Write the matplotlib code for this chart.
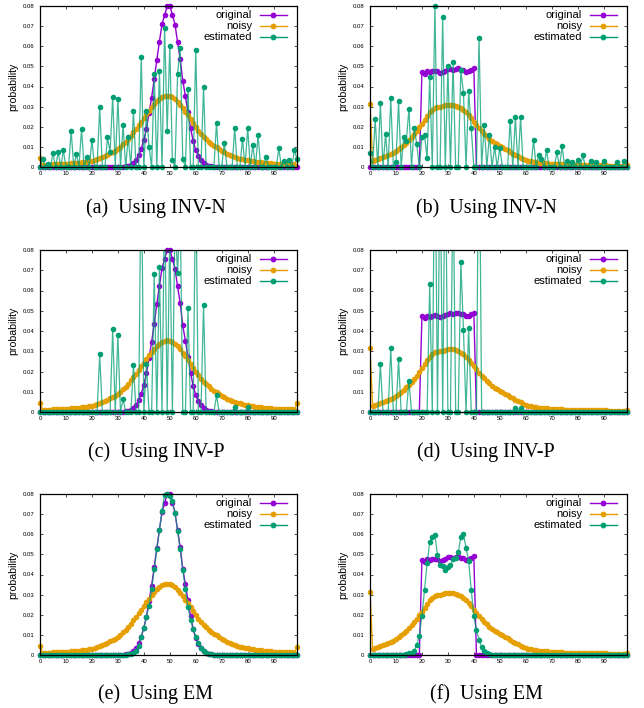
import numpy as np
import matplotlib
matplotlib.use("Agg")
import matplotlib.pyplot as plt
from matplotlib.lines import Line2D

# ---------------- data ----------------
bins = list(range(100))

original_gauss = [
    0, 0, 0, 0, 0, 0, 0, 0, 0, 0,
    0, 0, 0, 0, 0, 0, 0, 0, 0, 0,
    0, 0, 0, 0, 0, 0, 0, 0, 0, 0,
    0, 0, 0.0002, 0.0003, 0.0007, 0.0012, 0.0021, 0.0035, 0.0058, 0.0091,
    0.0135, 0.0191, 0.0268, 0.0345, 0.0437, 0.0532, 0.0623, 0.0710, 0.0755, 0.0800,
    0.0800, 0.0757, 0.0708, 0.0620, 0.0537, 0.0428, 0.0352, 0.0272, 0.0193, 0.0130,
    0.0083, 0.0056, 0.0034, 0.0020, 0.0012, 0.0007, 0.0003, 0.0002, 0, 0,
    0, 0, 0, 0, 0, 0, 0, 0, 0, 0,
    0, 0, 0, 0, 0, 0, 0, 0, 0, 0,
    0, 0, 0, 0, 0, 0, 0, 0, 0, 0]

original_unif = [
    0, 0, 0, 0, 0, 0, 0, 0, 0, 0,
    0, 0, 0, 0, 0, 0, 0, 0, 0, 0,
    0.0472, 0.0462, 0.0476, 0.0470, 0.0475, 0.0478, 0.0475, 0.0468, 0.0474, 0.0478,
    0.0485, 0.0488, 0.0483, 0.0488, 0.0490, 0.0483, 0.0482, 0.0474, 0.0476, 0.0483,
    0.0490, 0, 0, 0, 0, 0, 0, 0, 0, 0,
    0, 0, 0, 0, 0, 0, 0, 0, 0, 0,
    0, 0, 0, 0, 0, 0, 0, 0, 0, 0,
    0, 0, 0, 0, 0, 0, 0, 0, 0, 0,
    0, 0, 0, 0, 0, 0, 0, 0, 0, 0,
    0, 0, 0, 0, 0, 0, 0, 0, 0, 0]

noisy_gauss = [
    0.0045, 0.0011, 0.0011, 0.0012, 0.0012, 0.0013, 0.0013, 0.0014, 0.0015, 0.0015,
    0.0016, 0.0017, 0.0018, 0.0019, 0.0020, 0.0022, 0.0023, 0.0025, 0.0027, 0.0029,
    0.0032, 0.0035, 0.0039, 0.0043, 0.0048, 0.0054, 0.0061, 0.0068, 0.0073, 0.0079,
    0.0090, 0.0100, 0.0112, 0.0125, 0.0140, 0.0156, 0.0172, 0.0190, 0.0208, 0.0226,
    0.0244, 0.0262, 0.0280, 0.0297, 0.0312, 0.0326, 0.0337, 0.0346, 0.0352, 0.0355,
    0.0353, 0.0347, 0.0338, 0.0325, 0.0310, 0.0293, 0.0275, 0.0256, 0.0237, 0.0218,
    0.0199, 0.0181, 0.0164, 0.0150, 0.0138, 0.0126, 0.0115, 0.0106, 0.0097, 0.0088,
    0.0080, 0.0073, 0.0066, 0.0060, 0.0055, 0.0050, 0.0046, 0.0042, 0.0039, 0.0036,
    0.0033, 0.0030, 0.0028, 0.0026, 0.0024, 0.0023, 0.0021, 0.0020, 0.0019, 0.0018,
    0.0017, 0.0016, 0.0015, 0.0015, 0.0014, 0.0014, 0.0013, 0.0013, 0.0012, 0.0042]

noisy_unif = [
    0.0315, 0.0030, 0.0036, 0.0040, 0.0044, 0.0048, 0.0053, 0.0058, 0.0064, 0.0071,
    0.0078, 0.0087, 0.0097, 0.0108, 0.0121, 0.0134, 0.0148, 0.0164, 0.0180, 0.0197,
    0.0215, 0.0235, 0.0255, 0.0272, 0.0285, 0.0294, 0.0298, 0.0300, 0.0303, 0.0306,
    0.0309, 0.0310, 0.0309, 0.0305, 0.0300, 0.0293, 0.0284, 0.0272, 0.0258, 0.0242,
    0.0226, 0.0210, 0.0195, 0.0180, 0.0166, 0.0153, 0.0141, 0.0130, 0.0119, 0.0112,
    0.0106, 0.0098, 0.0090, 0.0082, 0.0074, 0.0067, 0.0060, 0.0053, 0.0047, 0.0041,
    0.0036, 0.0032, 0.0029, 0.0026, 0.0024, 0.0022, 0.0020, 0.0019, 0.0018, 0.0017,
    0.0016, 0.0015, 0.0014, 0.0013, 0.0013, 0.0012, 0.0012, 0.0011, 0.0011, 0.0010,
    0.0010, 0.0009, 0.0009, 0.0009, 0.0009, 0.0008, 0.0008, 0.0008, 0.0008, 0.0008,
    0.0008, 0.0008, 0.0007, 0.0007, 0.0007, 0.0007, 0.0007, 0.0007, 0.0007, 0.0008]

est_inv_n_gauss = [
    0, 0.0041, 0, 0.0015, 0, 0.0069, 0, 0.0073, 0, 0.0083,
    0, 0, 0.0180, 0, 0.0066, 0, 0.0188, 0, 0.0050, 0,
    0.0135, 0, 0, 0.0300, 0, 0, 0.0148, 0.0074, 0.0350, 0,
    0.0340, 0, 0.0210, 0, 0.0148, 0, 0.0280, 0, 0, 0.0545,
    0, 0.0280, 0.0100, 0, 0.0460, 0, 0.0476, 0, 0.0693, 0.0180,
    0.0600, 0.0036, 0, 0.0463, 0.0590, 0.0040, 0, 0.0390, 0, 0,
    0.0580, 0, 0, 0.0400, 0, 0, 0, 0, 0.0220, 0,
    0, 0.0120, 0, 0, 0, 0.0195, 0, 0, 0.0139, 0,
    0.0195, 0, 0.0110, 0, 0.0160, 0, 0, 0.0048, 0, 0,
    0, 0, 0.0094, 0, 0.0030, 0, 0.0036, 0, 0.0083, 0.0040]

est_inv_n_unif = [
    0.0069, 0, 0.0238, 0, 0.0317, 0, 0.0164, 0, 0.0344, 0,
    0.0023, 0.0326, 0, 0.0149, 0.0130, 0.0290, 0, 0.0195, 0.0114, 0,
    0.0150, 0.0160, 0.0045, 0.0445, 0, 0.0800, 0, 0, 0.0744, 0,
    0.0500, 0, 0.0522, 0, 0, 0.0480, 0.0370, 0, 0.0377, 0.0193,
    0, 0, 0.0640, 0, 0.0210, 0, 0.0157, 0, 0.0099, 0,
    0.0096, 0, 0, 0, 0.0231, 0, 0.0248, 0, 0.0248, 0,
    0, 0, 0, 0.0136, 0, 0.0061, 0.0040, 0, 0.0083, 0,
    0, 0, 0.0073, 0, 0.0102, 0, 0.0030, 0, 0.0023, 0,
    0.0036, 0, 0.0058, 0, 0, 0.0028, 0, 0.0023, 0, 0,
    0.0028, 0, 0, 0, 0, 0.0023, 0, 0, 0.0028, 0]

est_inv_p_gauss = [
    0, 0, 0, 0, 0, 0, 0, 0, 0, 0,
    0, 0, 0, 0, 0, 0, 0, 0, 0, 0,
    0, 0, 0, 0.0284, 0, 0, 0, 0, 0.0410, 0,
    0.0380, 0, 0.0063, 0, 0, 0, 0.0233, 0, 0, 0.1300,
    0, 0.0236, 0, 0, 0.0680, 0, 0.0714, 0, 0.1100, 0,
    0.0900, 0, 0.0950, 0.0688, 0.1000, 0, 0, 0.0513, 0, 0,
    0.1200, 0, 0, 0.0530, 0, 0, 0, 0, 0.0082, 0,
    0, 0, 0, 0, 0, 0.0025, 0, 0, 0, 0,
    0.0025, 0, 0, 0, 0, 0, 0, 0, 0, 0,
    0, 0, 0, 0, 0, 0, 0, 0, 0, 0]

est_inv_p_unif = [
    0, 0, 0, 0, 0.0236, 0, 0, 0, 0.0317, 0,
    0, 0.0260, 0, 0, 0, 0.0153, 0, 0, 0, 0,
    0, 0, 0, 0.0630, 0, 0.1500, 0, 0.1300, 0, 0.1400,
    0, 0, 0.1200, 0, 0, 0.0742, 0.0404, 0, 0.0416, 0,
    0, 0, 0.1600, 0, 0, 0, 0, 0, 0, 0,
    0, 0, 0, 0, 0, 0, 0.0020, 0, 0.0020, 0,
    0, 0, 0, 0, 0, 0, 0, 0, 0, 0,
    0, 0, 0, 0, 0, 0, 0, 0, 0, 0,
    0, 0, 0, 0, 0, 0, 0, 0, 0, 0,
    0, 0, 0, 0, 0, 0, 0, 0, 0, 0]

est_em_gauss = [
    0, 0, 0, 0, 0, 0, 0, 0, 0, 0,
    0, 0, 0, 0, 0, 0, 0, 0, 0, 0,
    0, 0, 0, 0, 0, 0, 0, 0, 0, 0,
    0, 0, 0, 0.0001, 0.0003, 0.0006, 0.0012, 0.0022, 0.0045, 0.0090,
    0.0136, 0.0188, 0.0245, 0.0326, 0.0425, 0.0525, 0.0620, 0.0717, 0.0797, 0.0800,
    0.0790, 0.0765, 0.0704, 0.0618, 0.0525, 0.0422, 0.0328, 0.0237, 0.0174, 0.0130,
    0.0091, 0.0058, 0.0035, 0.0020, 0.0011, 0.0006, 0.0003, 0.0001, 0, 0,
    0, 0, 0, 0, 0, 0, 0, 0, 0, 0,
    0, 0, 0, 0, 0, 0, 0, 0, 0, 0,
    0, 0, 0, 0, 0, 0, 0, 0, 0, 0]

est_em_unif = [
    0, 0, 0, 0, 0, 0, 0, 0, 0, 0,
    0, 0, 0, 0, 0.0005, 0.0008, 0.0012, 0.0020, 0.0050, 0.0095,
    0.0194, 0.0323, 0.0455, 0.0560, 0.0588, 0.0596, 0.0497, 0.0447, 0.0442, 0.0422,
    0.0436, 0.0447, 0.0477, 0.0480, 0.0512, 0.0585, 0.0601, 0.0533, 0.0467, 0.0323,
    0.0194, 0.0124, 0.0075, 0.0040, 0.0020, 0.0010, 0.0005, 0, 0, 0,
    0, 0, 0, 0, 0, 0, 0, 0, 0, 0,
    0, 0, 0, 0, 0, 0, 0, 0, 0, 0,
    0, 0, 0, 0, 0, 0, 0, 0, 0, 0,
    0, 0, 0, 0, 0, 0, 0, 0, 0, 0,
    0, 0, 0, 0, 0, 0, 0, 0, 0, 0]

series_labels = ["original", "noisy", "estimated"]
captions = ["(a)  Using INV-N", "(b)  Using INV-N",
            "(c)  Using INV-P", "(d)  Using INV-P",
            "(e)  Using EM", "(f)  Using EM"]
x_ticks = list(range(0, 100, 10))
y_ticks = [0, 0.01, 0.02, 0.03, 0.04, 0.05, 0.06, 0.07, 0.08]
y_tick_labels = ["0", "0.01", "0.02", "0.03", "0.04", "0.05", "0.06", "0.07", "0.08"]

panels = [
    (original_gauss, noisy_gauss, est_inv_n_gauss),
    (original_unif, noisy_unif, est_inv_n_unif),
    (original_gauss, noisy_gauss, est_inv_p_gauss),
    (original_unif, noisy_unif, est_inv_p_unif),
    (original_gauss, noisy_gauss, est_em_gauss),
    (original_unif, noisy_unif, est_em_unif),
]

# ---------------- style ----------------
PURPLE = "#9400D3"
ORANGE = "#E69F00"
GREEN = "#009E73"
colors = [PURPLE, ORANGE, GREEN]
SANS = ["Liberation Sans", "DejaVu Sans"]
SERIF = ["Liberation Serif", "DejaVu Serif"]

W, H = 644, 708
fig = plt.figure(figsize=(W / 100, H / 100), dpi=100)

col_x = [40, 370]
row_top = [6, 250, 494]
ax_w = 257
ax_h = [161, 162, 161]
cap_x = [156, 486]
cap_base = [213, 457, 699]

for k, (orig, noisy, est) in enumerate(panels):
    r, c = divmod(k, 2)
    ax = fig.add_axes([col_x[c] / W, 1 - (row_top[r] + ax_h[r]) / H,
                       ax_w / W, ax_h[r] / H])
    for vals, col, lw, alpha in [(orig, PURPLE, 1.0, 1.0),
                                 (noisy, ORANGE, 1.0, 1.0),
                                 (est, GREEN, 0.9, 0.75)]:
        y = np.array(vals, dtype=float)
        ax.plot(bins, y, color=col, lw=lw, alpha=alpha, clip_on=True, zorder=2)
        ym = np.where(y <= 0.0801, y, np.nan)
        ax.plot(bins, ym, linestyle="none", marker="o", ms=4.0, mew=0,
                color=col, clip_on=False, zorder=2)

    ax.set_xlim(0, 99)
    ax.set_ylim(0, 0.08)
    ax.set_xticks(x_ticks)
    ax.set_xticklabels([str(t) for t in x_ticks], family=SANS)
    ax.set_yticks(y_ticks)
    ax.set_yticklabels(y_tick_labels, family=SANS)
    ax.tick_params(direction="in", length=2.5, width=0.5, top=True, right=True,
                   labelsize=4.3, colors="black")
    ax.tick_params(axis="y", pad=4)
    ax.tick_params(axis="x", pad=3)
    for s in ax.spines.values():
        s.set_linewidth(0.9)
        s.set_zorder(3)
    ax.set_ylabel("probability", family=SANS, fontsize=7.6)
    ax.yaxis.set_label_coords(-0.085, 0.5)

    # key (gnuplot style: right-aligned text, sample on the right)
    key_y = [0.942, 0.876, 0.807]
    for lab, col, ky in zip(series_labels, colors, key_y):
        ax.text(0.825, ky, lab, transform=ax.transAxes, ha="right", va="center",
                fontsize=8, family=SANS)
        ln = Line2D([0.856, 0.907, 0.961], [ky, ky, ky], transform=ax.transAxes,
                    color=col, lw=1.0, marker="o", ms=4.2, mew=0, markevery=[1],
                    clip_on=False, zorder=4)
        ax.add_line(ln)

    fig.text(cap_x[c] / W, 1 - cap_base[r] / H, captions[k], ha="center",
             va="baseline", fontsize=14.4, family=SERIF)

fig.savefig("out.png", dpi=100)
